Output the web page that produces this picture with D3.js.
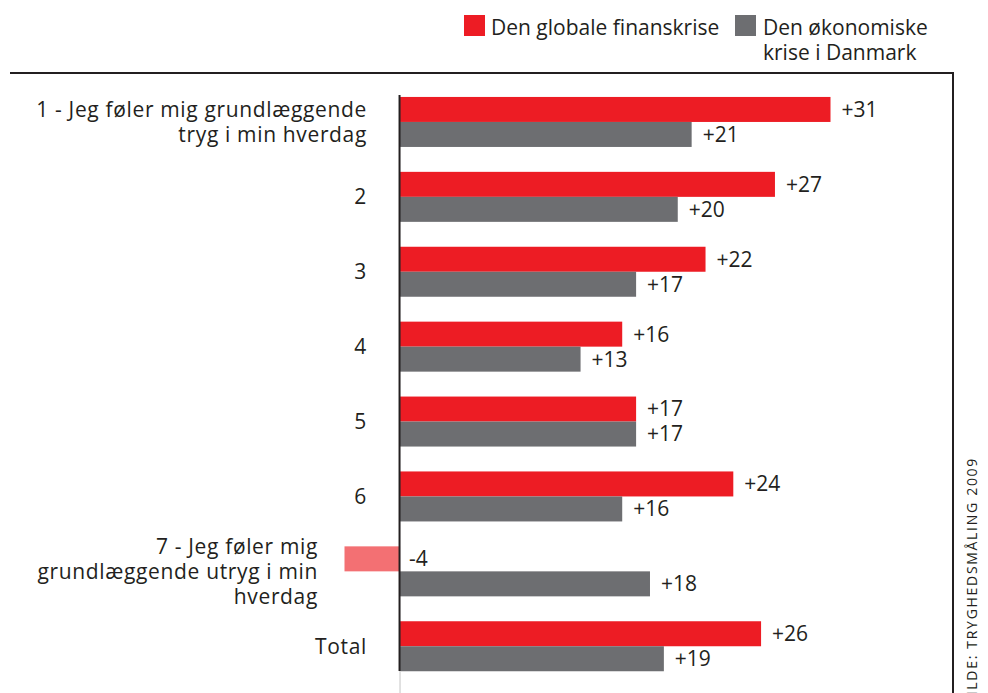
<!DOCTYPE html>
<html><head><meta charset="utf-8">
<script src="https://cdn.jsdelivr.net/npm/d3@7"></script>
<style>
html,body{margin:0;padding:0;background:#fff;}
svg{display:block;font-family:"Open Sans",sans-serif;}
</style></head>
<body><svg id="c" width="988" height="693"></svg>
<script>
const categories = ["1","2","3","4","5","6","7","Total"];
const categoryLabels = [
  ["1 - Jeg føler mig grundlæggende","tryg i min hverdag"],
  ["2"],["3"],["4"],["5"],["6"],
  ["7 - Jeg føler mig","grundlæggende utryg i min","hverdag"],
  ["Total"]
];
const seriesNames = ["Den globale finanskrise","Den økonomiske krise i Danmark"];
const globalValues = [31,27,22,16,17,24,-4,26];
const danishValues = [21,20,17,13,17,16,18,19];
const sourceText = "KILDE: TRYGHEDSMÅLING 2009";

const RED="#ed1c24", GRAY="#6d6e71", LRED="#f37073", TXT="#231f20";
const FS = 21;
const svg = d3.select("#c");
const x = d3.scaleLinear().domain([-4,31]).range([344.5,830.5]);
const y = d3.scaleBand().domain(categories).range([84.5,683.7]);
const y1 = d3.scaleBand().domain(seriesNames).range([-25,25]);

// frame lines
svg.append("line").attr("x1",10).attr("x2",954).attr("y1",73).attr("y2",73).attr("stroke",TXT).attr("stroke-width",2);
svg.append("line").attr("x1",953).attr("x2",953).attr("y1",72).attr("y2",693).attr("stroke",TXT).attr("stroke-width",2);

const data = categories.map((c,i)=>({c, vals:[globalValues[i], danishValues[i]]}));
const g = svg.append("g");
data.forEach((d,i)=>{
  const cy = y(d.c)+y.bandwidth()/2;
  d.vals.forEach((v,j)=>{
    const s = seriesNames[j];
    const top = cy + y1(s);
    const color = j===0 ? (v<0?LRED:RED) : GRAY;
    g.append("rect").attr("x",Math.min(x(0),x(v))).attr("y",top)
      .attr("width",Math.abs(x(v)-x(0))).attr("height",y1.bandwidth()).attr("fill",color);
    g.append("text").attr("x", v<0 ? x(0)+9 : x(v)+11).attr("y",top+y1.bandwidth()/2)
      .attr("dy","0.35em").attr("font-size",FS).attr("fill",TXT)
      .text(v<0 ? "-"+Math.abs(v) : "+"+v);
  });
  const lines = categoryLabels[i];
  const rx = d.c==="7" ? 318 : 367;
  const lh = 25;
  const t = g.append("text").attr("text-anchor","end").attr("font-size",FS).attr("fill",TXT)
    .attr("letter-spacing",0.65);
  lines.forEach((s,k)=>{
    t.append("tspan").attr("x",rx).attr("y",cy+(k-(lines.length-1)/2)*lh).attr("dy","0.35em").text(s);
  });
});

// zero line
svg.append("line").attr("x1",x(0)).attr("x2",x(0)).attr("y1",671).attr("y2",693).attr("stroke","#d8d8d8").attr("stroke-width",1.5);
svg.append("line").attr("x1",x(0)-0.5).attr("x2",x(0)-0.5).attr("y1",95).attr("y2",671).attr("stroke",TXT).attr("stroke-width",2);

// legend
const leg = svg.append("g");
leg.append("rect").attr("x",464).attr("y",15).attr("width",21).attr("height",21).attr("fill",RED);
leg.append("text").attr("x",491).attr("y",28).attr("dy","0.35em").attr("font-size",FS).attr("fill",TXT).text(seriesNames[0]);
leg.append("rect").attr("x",735).attr("y",15).attr("width",21).attr("height",21).attr("fill",GRAY);
const lt = leg.append("text").attr("font-size",FS).attr("fill",TXT);
lt.append("tspan").attr("x",763).attr("y",28).attr("dy","0.35em").text("Den økonomiske");
lt.append("tspan").attr("x",763).attr("y",53).attr("dy","0.35em").text("krise i Danmark");

// source
svg.append("text").attr("transform","translate(972,457) rotate(-90)").attr("text-anchor","end")
  .attr("dy","0.35em").attr("font-size",14).attr("letter-spacing",1.7).attr("fill",TXT).text(sourceText);
</script></body></html>
